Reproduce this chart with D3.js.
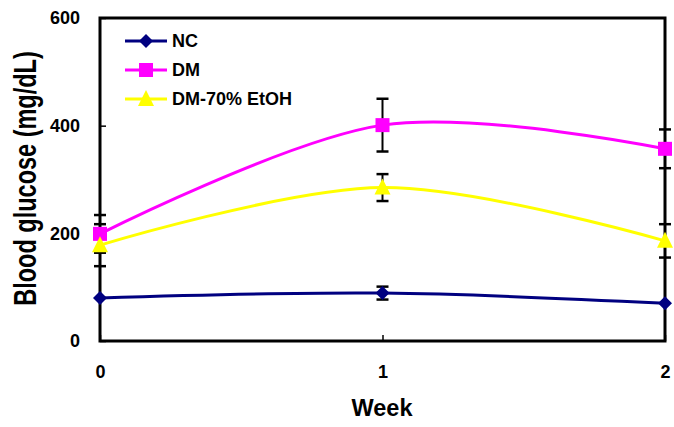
<!DOCTYPE html>
<html><head><meta charset="utf-8">
<script src="https://cdn.jsdelivr.net/npm/d3@7"></script>
<style>body{margin:0;background:#fff;} text{font-family:Arial,"Liberation Sans",sans-serif;font-weight:bold;}</style>
</head><body>
<svg id="c" width="674" height="427"></svg>
<script>
const weeks = [0, 1, 2];
const xTicks = [0, 1, 2];
const yTicks = [0, 200, 400, 600];
const seriesNames = ["NC", "DM", "DM-70% EtOH"];
const ncValues = [80, 89, 70];
const ncErr = [0, 12, 0];
const dmValues = [199, 401, 357];
const dmErr = [35, 49, 36];
const etohValues = [178, 285, 186];
const etohErr = [39, 25, 31];
const colors = ["#000080", "#FF00FF", "#FFFF00"];

const svg = d3.select("#c");
const L = 100, R = 665, T = 18, B = 341;
const x = d3.scaleLinear().domain([0, 2]).range([L, R]);
const y = d3.scaleLinear().domain([0, 600]).range([B, T]);

const series = [
  {name: seriesNames[0], vals: ncValues, err: ncErr, color: colors[0], shape: "diamond"},
  {name: seriesNames[1], vals: dmValues, err: dmErr, color: colors[1], shape: "square"},
  {name: seriesNames[2], vals: etohValues, err: etohErr, color: colors[2], shape: "triangle"}
];

// frame
svg.append("rect").attr("x", L).attr("y", T).attr("width", R - L).attr("height", B - T)
  .attr("fill", "none").attr("stroke", "#000").attr("stroke-width", 3);

// axes
const yAxis = d3.axisLeft(y).tickValues(yTicks).tickSize(-6).tickPadding(20);
const gy = svg.append("g").attr("transform", `translate(${L},0)`).call(yAxis);
gy.select(".domain").remove();
gy.selectAll("line").attr("stroke", "#000").attr("stroke-width", 1.5);
gy.selectAll("text").attr("font-size", 18).attr("fill", "#000");

const xAxis = d3.axisBottom(x).tickValues(xTicks).tickFormat(d3.format("d")).tickSize(-6).tickPadding(24);
const gx = svg.append("g").attr("transform", `translate(0,${B})`).call(xAxis);
gx.select(".domain").remove();
gx.selectAll("line").attr("stroke", "#000").attr("stroke-width", 1.5);
gx.selectAll("text").attr("font-size", 18).attr("fill", "#000");

svg.append("text").attr("x", 382).attr("y", 416).attr("text-anchor", "middle")
  .attr("font-size", 23.5).text("Week");
svg.append("text").attr("transform", `translate(36,178.5) rotate(-90) scale(1,1.35)`)
  .attr("text-anchor", "middle").attr("font-size", 23.5).text("Blood glucose (mg/dL)");

const line = d3.line().x((d, i) => x(weeks[i])).y(d => y(d)).curve(d3.curveCatmullRom.alpha(0));

function marker(g, shape, color, cx, cy) {
  if (shape === "diamond") {
    g.append("path").attr("d", `M${cx},${cy - 7}L${cx + 7},${cy}L${cx},${cy + 7}L${cx - 7},${cy}Z`).attr("fill", color);
  } else if (shape === "square") {
    g.append("rect").attr("x", cx - 7).attr("y", cy - 7).attr("width", 14).attr("height", 14).attr("fill", color);
  } else {
    g.append("path").attr("d", `M${cx},${cy - 9}L${cx + 8},${cy + 7}L${cx - 8},${cy + 7}Z`).attr("fill", color);
  }
}

// error bars
series.forEach(s => {
  const g = svg.append("g");
  s.vals.forEach((v, i) => {
    if (!s.err[i]) return;
    const cx = x(weeks[i]);
    const y1 = y(v + s.err[i]), y2 = y(v - s.err[i]);
    g.append("line").attr("x1", cx).attr("x2", cx).attr("y1", y1).attr("y2", y2).attr("stroke", "#000").attr("stroke-width", 2);
    [y1, y2].forEach(yy => g.append("line").attr("x1", cx - 6).attr("x2", cx + 6).attr("y1", yy).attr("y2", yy).attr("stroke", "#000").attr("stroke-width", 2.5));
  });
});

// lines + markers
series.forEach(s => {
  svg.append("path").attr("d", line(s.vals)).attr("fill", "none").attr("stroke", s.color).attr("stroke-width", 3);
});
series.forEach(s => {
  const g = svg.append("g");
  s.vals.forEach((v, i) => marker(g, s.shape, s.color, x(weeks[i]), y(v)));
});

// legend
series.forEach((s, i) => {
  const ly = 41 + i * 29;
  const g = svg.append("g");
  g.append("line").attr("x1", 125).attr("x2", 167).attr("y1", ly).attr("y2", ly).attr("stroke", s.color).attr("stroke-width", 3);
  marker(g, s.shape, s.color, 146, ly);
  g.append("text").attr("x", 172).attr("y", ly + 6).attr("font-size", 18).text(s.name);
});
</script>
</body></html>
